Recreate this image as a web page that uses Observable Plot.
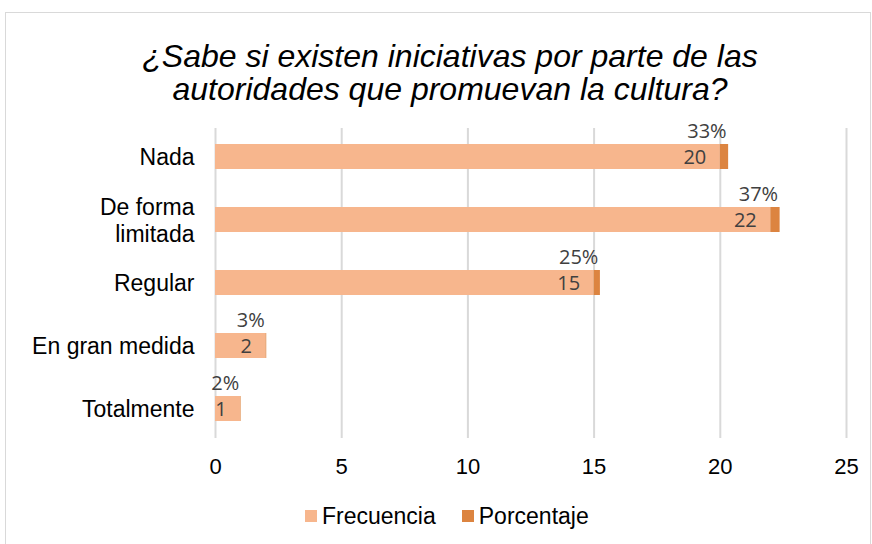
<!DOCTYPE html>
<html><head><meta charset="utf-8">
<script src="https://cdn.jsdelivr.net/npm/d3@7"></script>
<script src="https://cdn.jsdelivr.net/npm/@observablehq/plot@0.6"></script>
<style>
body{margin:0;background:#fff;}
#wrap{position:relative;width:872px;height:544px;overflow:hidden;font-family:"Liberation Sans",Arial,sans-serif;}
#frame{position:absolute;left:5px;top:12px;width:866px;height:540px;border:1px solid #d9d9d9;box-sizing:border-box;}
#title{position:absolute;left:0;top:40px;width:900px;text-align:center;font-style:italic;font-size:32px;line-height:33px;color:#000;}
#chart{position:absolute;left:0;top:108px;}
#legend{position:absolute;top:503px;left:305px;font-size:23px;line-height:26px;color:#000;display:flex;align-items:center;}
.sw{display:inline-block;width:12px;height:12px;margin-right:5px;}
</style></head>
<body><div id="wrap"><div id="frame"></div>
<div id="title">¿Sabe si existen iniciativas por parte de las<br>autoridades que promuevan la cultura?</div>
<div id="chart"></div>
<div id="legend"><span class="sw" style="background:#F7B68D"></span><span style="margin-right:26px">Frecuencia</span><span class="sw" style="background:#DC8440"></span><span>Porcentaje</span></div>
</div>
<script>
const categories = ["Nada", "De forma\nlimitada", "Regular", "En gran medida", "Totalmente"];
const frecuencia = [20, 22, 15, 2, 1];
const porcentaje = [0.33, 0.37, 0.25, 0.03, 0.02];
const xTicks = [0, 5, 10, 15, 20, 25];
const seriesNames = ["Frecuencia", "Porcentaje"];
const colors = ["#F7B68D", "#DC8440"];

const rows = categories.map((c, i) => ({cat: c, freq: frecuencia[i], pct: porcentaje[i], total: frecuencia[i] + porcentaje[i]}));
const long = [];
categories.forEach((c, i) => {
  long.push({cat: c, series: seriesNames[0], value: frecuencia[i]});
  long.push({cat: c, series: seriesNames[1], value: porcentaje[i]});
});

const chart = Plot.plot({
  width: 872,
  height: 382,
  marginLeft: 215,
  marginRight: 26,
  marginTop: 20,
  marginBottom: 52,
  style: {fontFamily: "'Liberation Sans', Arial, sans-serif", background: "transparent", overflow: "visible"},
  x: {domain: [0, 25], axis: null},
  y: {domain: categories, paddingInner: 0.6, paddingOuter: 0.26, axis: null},
  color: {domain: seriesNames, range: colors},
  marks: [
    Plot.ruleX(xTicks, {stroke: "#d9d9d9", strokeWidth: 2}),
    Plot.barX(long, Plot.stackX({x: "value", y: "cat", fill: "series", order: seriesNames})),
    Plot.axisX(xTicks, {tickSize: 0, tickPadding: 20, fontSize: 22, fill: "#000", label: null}),
    Plot.axisY({tickSize: 0, tickPadding: 21, fontSize: 23, fill: "#000", label: null, lineHeight: 1.15}),
    Plot.text(rows, {x: "freq", y: "cat", text: d => String(d.freq), textAnchor: "end", dx: -14, dy: 1, fontSize: 20, fill: "#404040", fontFamily: "'Open Sans', Lato, sans-serif"}),
    Plot.text(rows, {x: "total", y: "cat", text: d => Math.round(d.pct * 100) + "%", textAnchor: "end", dx: -2, dy: -25, fontSize: 20, fill: "#404040", fontFamily: "'Open Sans', Lato, sans-serif"})
  ]
});
document.getElementById("chart").appendChild(chart);
</script>
</body></html>
